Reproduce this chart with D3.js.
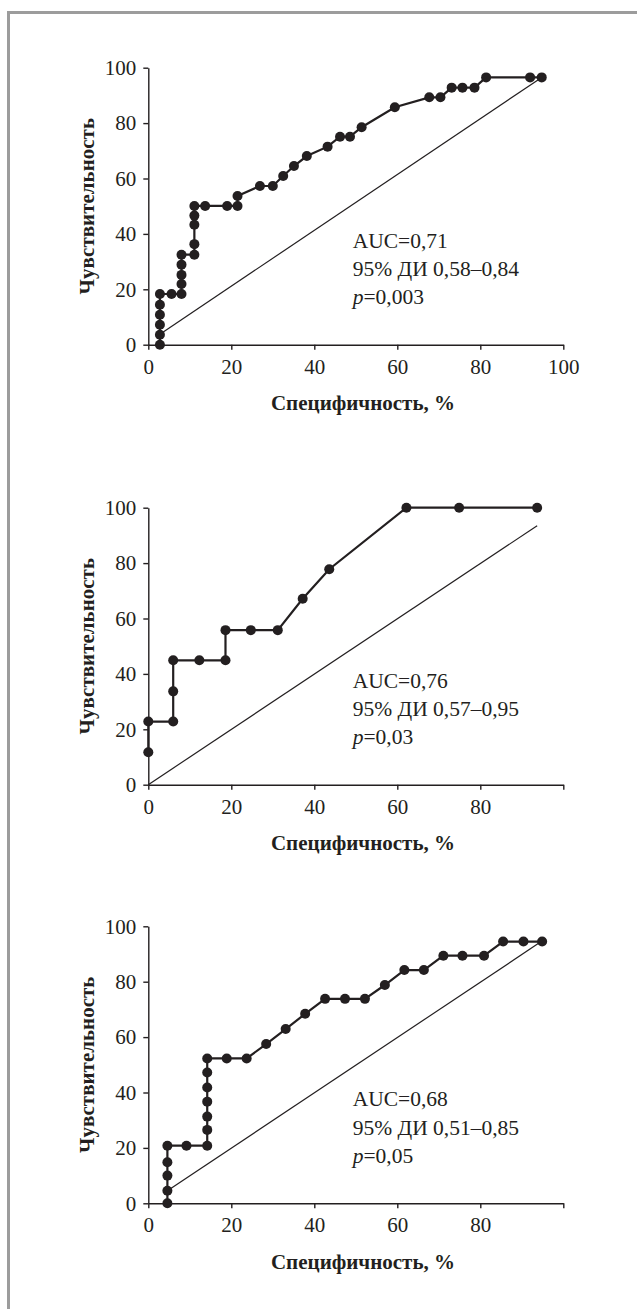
<!DOCTYPE html>
<html>
<head>
<meta charset="utf-8">
<script src="https://cdn.jsdelivr.net/npm/d3@7"></script>
<style>
  html, body { margin: 0; padding: 0; background: #fff; }
  svg { display: block; }
</style>
</head>
<body>
<svg id="chart"></svg>
<script>
// ROC curve 1
const spec1 = [2.8, 2.8, 2.8, 2.8, 2.8, 2.8, 5.6, 8.0, 8.0, 8.0, 8.0, 8.0, 11.1, 11.1, 11.1, 11.1, 11.1, 13.7, 19.0, 21.5, 21.5, 26.9, 30.0, 32.5, 35.1, 38.2, 43.2, 46.2, 48.6, 51.4, 59.4, 67.7, 70.4, 73.1, 75.7, 78.6, 81.4, 92.0, 94.8];
const sens1 = [0, 3.6, 7.2, 10.8, 14.4, 18.3, 18.3, 18.3, 21.9, 25.2, 28.9, 32.5, 32.5, 36.3, 43.3, 46.6, 50.1, 50.1, 50.1, 50.1, 53.7, 57.3, 57.3, 60.9, 64.5, 68.1, 71.5, 75.1, 75.1, 78.5, 85.7, 89.3, 89.3, 92.8, 92.8, 92.8, 96.5, 96.5, 96.5];
const diag1 = [[2.8, 3.8], [94.8, 96.5]];
const stats1 = ["AUC=0,71", "95% ДИ 0,58–0,84", "0,003"];

// ROC curve 2
const spec2 = [0, 0, 6.0, 6.0, 6.0, 12.3, 18.6, 18.6, 24.7, 31.2, 37.2, 43.6, 62.2, 74.9, 93.7];
const sens2 = [11.7, 22.8, 22.8, 33.7, 44.9, 44.9, 44.9, 55.8, 55.8, 55.8, 67.1, 77.8, 100, 100, 100];
const diag2 = [[0, 0], [93.7, 93.5]];
const stats2 = ["AUC=0,76", "95% ДИ 0,57–0,95", "0,03"];

// ROC curve 3
const spec3 = [4.6, 4.6, 4.6, 4.6, 4.6, 9.2, 14.2, 14.2, 14.2, 14.2, 14.2, 14.2, 14.2, 18.9, 23.7, 28.4, 33.1, 37.8, 42.6, 47.4, 52.2, 57.0, 61.7, 66.4, 71.1, 75.7, 80.9, 85.5, 90.4, 94.9];
const sens3 = [0, 4.5, 10.0, 14.8, 20.8, 20.8, 20.8, 26.5, 31.3, 36.7, 41.8, 47.2, 52.3, 52.3, 52.3, 57.5, 62.9, 68.4, 73.8, 73.8, 73.8, 78.8, 84.2, 84.2, 89.4, 89.4, 89.4, 94.5, 94.5, 94.5];
const diag3 = [[4.6, 4.5], [94.4, 94.2]];
const stats3 = ["AUC=0,68", "95% ДИ 0,51–0,85", "0,05"];

const yTicks = [0, 20, 40, 60, 80, 100];
const xTicksFull = [0, 20, 40, 60, 80, 100];
const xTicksShort = [0, 20, 40, 60, 80];

const xTitle = "Специфичность, %";
const yTitle = "Чувствительность";

const width = 637;
const height = 1309;
const ink = "#231f20";
const font = "'Liberation Serif', 'Times New Roman', serif";

const plotLeft = 148.3;
const plotW = 415;
const plotH = 277;

const svg = d3.select("#chart")
  .attr("width", width)
  .attr("height", height);

// frame (top + left only)
svg.append("path")
  .attr("d", `M8.5,${height} L8.5,12.5 L${width},12.5`)
  .attr("fill", "none")
  .attr("stroke", "#9c9c9c")
  .attr("stroke-width", 3);

const charts = [
  { top: 67.7, spec: spec1, sens: sens1, diag: diag1, stats: stats1, xLabels: xTicksFull },
  { top: 507.7, spec: spec2, sens: sens2, diag: diag2, stats: stats2, xLabels: xTicksShort },
  { top: 926.3, spec: spec3, sens: sens3, diag: diag3, stats: stats3, xLabels: xTicksShort }
];

const x = d3.scaleLinear().domain([0, 100]).range([0, plotW]);
const y = d3.scaleLinear().domain([0, 100]).range([plotH, 0]);

charts.forEach(c => {
  const g = svg.append("g")
    .attr("transform", `translate(${plotLeft}, ${c.top})`);

  // x axis
  const xAxis = g.append("g")
    .attr("transform", `translate(0, ${plotH})`)
    .call(d3.axisBottom(x)
      .tickValues(xTicksFull)
      .tickSize(5)
      .tickSizeOuter(0)
      .tickPadding(9)
      .tickFormat(d => c.xLabels.includes(d) ? d : ""));

  // y axis
  const yAxis = g.append("g")
    .call(d3.axisLeft(y)
      .tickValues(yTicks)
      .tickSize(5)
      .tickSizeOuter(0)
      .tickPadding(7));

  [xAxis, yAxis].forEach(a => {
    a.select(".domain").attr("stroke", ink).attr("stroke-width", 1.4);
    a.selectAll(".tick line").attr("stroke", ink).attr("stroke-width", 1.4);
    a.selectAll(".tick text")
      .attr("fill", ink)
      .attr("font-family", font)
      .attr("font-size", "21px");
  });

  // axis titles
  g.append("text")
    .attr("x", 363 - plotLeft)
    .attr("y", plotH + 65.3)
    .attr("text-anchor", "middle")
    .attr("font-family", font)
    .attr("font-weight", "bold")
    .attr("font-size", "21px")
    .attr("fill", ink)
    .text(xTitle);

  g.append("text")
    .attr("transform", `translate(${86.7 - plotLeft + 7.5}, ${plotH / 2}) rotate(-90)`)
    .attr("text-anchor", "middle")
    .attr("font-family", font)
    .attr("font-weight", "bold")
    .attr("font-size", "21px")
    .attr("fill", ink)
    .text(yTitle);

  // reference diagonal
  g.append("line")
    .attr("x1", x(c.diag[0][0]))
    .attr("y1", y(c.diag[0][1]))
    .attr("x2", x(c.diag[1][0]))
    .attr("y2", y(c.diag[1][1]))
    .attr("stroke", ink)
    .attr("stroke-width", 1.2);

  // ROC curve
  const pts = c.spec.map((s, i) => [s, c.sens[i]]);
  g.append("path")
    .datum(pts)
    .attr("fill", "none")
    .attr("stroke", ink)
    .attr("stroke-width", 2.2)
    .attr("d", d3.line().x(d => x(d[0])).y(d => y(d[1])));

  g.append("g")
    .selectAll("circle")
    .data(pts)
    .join("circle")
    .attr("cx", d => x(d[0]))
    .attr("cy", d => y(d[1]))
    .attr("r", 5)
    .attr("fill", ink);

  // stats annotation
  const ann = g.append("text")
    .attr("font-family", font)
    .attr("font-size", "21.5px")
    .attr("fill", ink);
  ann.append("tspan").attr("x", 352.7 - plotLeft).attr("y", 180).text(c.stats[0]);
  ann.append("tspan").attr("x", 352.7 - plotLeft).attr("y", 208.3).text(c.stats[1]);
  const pLine = ann.append("tspan").attr("x", 352.7 - plotLeft).attr("y", 236.6);
  pLine.append("tspan").attr("font-style", "italic").text("p");
  pLine.append("tspan").text("=" + c.stats[2]);
});
</script>
</body>
</html>
